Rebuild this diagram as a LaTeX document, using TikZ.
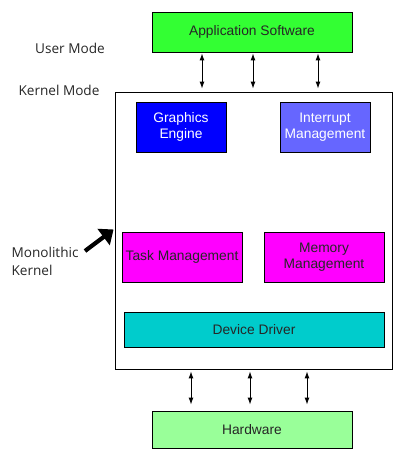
\documentclass[tikz,border=0pt]{standalone}
\usepackage{fontspec}
\setmainfont{Liberation Sans}
\newfontfamily\labelfont{Open Sans}
\usetikzlibrary{arrows.meta,calc}

\definecolor{appgreen}{HTML}{33FF33}
\definecolor{hwgreen}{HTML}{99FF99}
\definecolor{gfxblue}{HTML}{0000FF}
\definecolor{irqblue}{HTML}{6666FF}
\definecolor{mgmtpink}{HTML}{FF00FF}
\definecolor{drvcyan}{HTML}{00CCCC}

\begin{document}
\begin{tikzpicture}[
  x=1pt, y=-1pt,
  font=\fontsize{13.8}{16}\selectfont,
  every node/.style={align=center},
  block/.style ={rectangle, draw=black, line width=0.9pt, inner sep=2pt, text=black!85},
  lbl/.style   ={font=\labelfont\fontsize{13.6}{18}\selectfont, text=black!85},
  arrow/.style ={{Latex[length=2.4mm,width=1.7mm]}-{Latex[length=2.4mm,width=1.7mm]}, line width=0.9pt},
  bigarrow/.style={-{Triangle[length=4.4mm,width=7mm]}, line width=4.2pt, draw=black},
]
\useasboundingbox (0,0) rectangle (420,471);

% -------- outer boxes -----------------------------------------------------
\node[block, fill=appgreen, minimum width=200pt, minimum height=40pt] (app) at (252,32) {Application Software};
\node[block, minimum width=277pt, minimum height=277pt] (kernel) at (253.5,230.5) {};
\node[block, fill=hwgreen, minimum width=200pt, minimum height=37pt] (hw) at (252,429.5) {Hardware};

% -------- kernel parts ----------------------------------------------------
\node[block, fill=gfxblue, text=white, minimum width=90pt, minimum height=50pt] (gfx) at (181,127) {Graphics\\Engine};
\node[block, fill=irqblue, text=white, minimum width=90pt, minimum height=50pt] (irq) at (325,127) {Interrupt\\Management};
\node[block, fill=mgmtpink, minimum width=120pt, minimum height=50pt] (task) at (182,257) {Task Management};
\node[block, fill=mgmtpink, minimum width=120pt, minimum height=50pt] (mem) at (324,257) {Memory\\Management};
\node[block, fill=drvcyan, minimum width=260pt, minimum height=35pt] (drv) at (254,329.5) {Device Driver};

% -------- labels ----------------------------------------------------------
\node[lbl] (user) at (70,48) {User Mode};
\node[lbl] (kmode) at (59,90) {Kernel Mode};
\node[lbl, anchor=west, align=left] (mono) at (8,261) {Monolithic\\Kernel};

% -------- arrows ----------------------------------------------------------
\foreach \x in {202,253,318}
  \draw[arrow, shorten <=1pt, shorten >=3pt] (app.south -| \x,0) -- (kernel.north -| \x,0);
\foreach \x in {191,250,307}
  \draw[arrow, shorten <=2pt, shorten >=6pt] (kernel.south -| \x,0) -- (hw.north -| \x,0);

\coordinate (monotail) at (85,251);
\draw[bigarrow] (monotail) -- ($(kernel.west)+(-1,-1)$);

\end{tikzpicture}
\end{document}
